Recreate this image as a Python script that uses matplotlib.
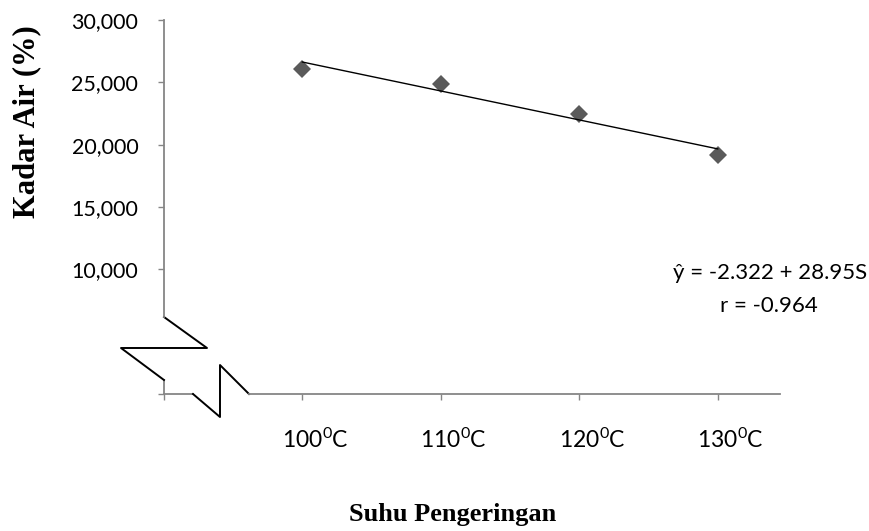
import matplotlib
matplotlib.use("Agg")
import matplotlib.pyplot as plt
from matplotlib.lines import Line2D
from matplotlib.transforms import ScaledTranslation

plt.rcParams['font.family'] = ['Lato', 'DejaVu Sans']
plt.rcParams['mathtext.default'] = 'regular'

# Kadar air (%) pada tiap suhu pengeringan
suhu_idx = [1, 2, 3, 4]
suhu_labels = ['', '100$^{0}$C', '110$^{0}$C', '120$^{0}$C', '130$^{0}$C']
kadar_air = [26.10, 24.88, 22.47, 19.17]
y_ticks = [0, 10, 15, 20, 25, 30]

# Persamaan regresi yang dituliskan pada grafik
slope = -2.322
intercept = 28.95
r_value = -0.964

AX_GRAY = '#868686'
DPI = 100

fig = plt.figure(figsize=(8.7, 5.31), dpi=DPI)
ax = fig.add_axes([164 / 870, 137 / 531, 616 / 870, 374 / 531])
ax.set_xlim(0, 4.45)
ax.set_ylim(0, 30)

# data points
ax.plot(suhu_idx, kadar_air, linestyle='none', marker='D', markersize=9,
        color='#5a5a5a', markeredgewidth=0, zorder=3)

# trend line from the regression equation
trend = [intercept + slope * s for s in suhu_idx]
ax.plot([suhu_idx[0], suhu_idx[-1]], [trend[0], trend[-1]],
        color='black', linewidth=1.0, zorder=4)

# axes styling
for side in ('top', 'right'):
    ax.spines[side].set_visible(False)
for side in ('left', 'bottom'):
    ax.spines[side].set_color(AX_GRAY)
    ax.spines[side].set_linewidth(1.3)

# broken-axis gaps near the origin (axes fraction coordinates)
y_gap_lo, y_gap_hi = 0.0374, 0.2059
x_gap_lo, x_gap_hi = 0.0471, 0.138
ax.spines['left'].set_bounds(y_gap_hi * 30, 30)
ax.spines['bottom'].set_bounds(x_gap_hi * 4.45, 4.45)
tr = ax.transAxes
ax.add_line(Line2D([0, 0], [0, y_gap_lo], transform=tr, color=AX_GRAY,
                   linewidth=1.3, clip_on=False))
ax.add_line(Line2D([0, x_gap_lo], [0, 0], transform=tr, color=AX_GRAY,
                   linewidth=1.3, clip_on=False))

# zigzag break symbols
ax.add_line(Line2D([0, 0.0698, -0.0698, 0], [y_gap_hi, 0.123, 0.123, y_gap_lo],
                   transform=tr, color='black', linewidth=1.4, clip_on=False))
ax.add_line(Line2D([x_gap_lo, 0.0909, 0.0909, x_gap_hi], [0, -0.0615, 0.0775, 0],
                   transform=tr, color='black', linewidth=1.4, clip_on=False))

ax.set_yticks(y_ticks)
ax.set_yticklabels(['' if v == 0 else f"{v:,.3f}".replace('.', ',') for v in y_ticks])
ax.set_xticks(range(len(suhu_labels)))
ax.set_xticklabels(suhu_labels)
ax.tick_params(axis='both', direction='out', length=4.5, width=1.0,
               color=AX_GRAY, labelcolor='black')
ax.tick_params(axis='y', pad=14, labelsize=15.5)
ax.tick_params(axis='x', pad=20, labelsize=16.5)

# category labels sit slightly right of their ticks
shift = ScaledTranslation(13 / DPI, 0, fig.dpi_scale_trans)
for lbl in ax.get_xticklabels():
    lbl.set_transform(lbl.get_transform() + shift)

# equation annotation
fig.text(673 / 870, 1 - 273 / 531,
         '\u0177 = ' + f"{slope}" + ' + ' + f"{intercept}" + 'S',
         ha='left', va='center', fontsize=16)
fig.text(720 / 870, 1 - 306 / 531, f"r = {r_value}",
         ha='left', va='center', fontsize=16)

# axis titles
fig.text(453 / 870, 1 - 515 / 531, 'Suhu Pengeringan', ha='center', va='center',
         fontsize=19, fontweight='bold', family='Liberation Serif')
fig.text(27 / 870, 1 - 122 / 531, 'Kadar Air (%)', ha='center', va='center',
         rotation=90, fontsize=22, fontweight='bold', family='Liberation Serif')

fig.savefig('out.png', dpi=DPI, facecolor='white')
